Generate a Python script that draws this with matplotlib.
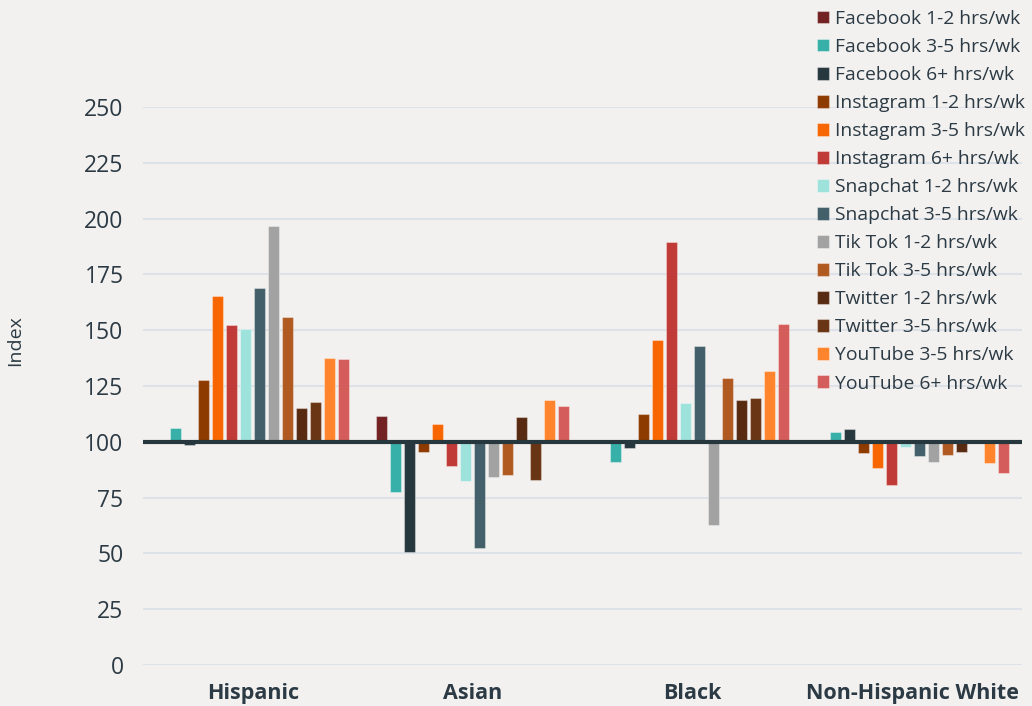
import matplotlib
matplotlib.use("Agg")
import matplotlib.pyplot as plt
import numpy as np

plt.rcParams['font.family'] = ['Open Sans', 'DejaVu Sans']

groups = ['Hispanic', 'Asian', 'Black', 'Non-Hispanic White']
series = ['Facebook 1-2 hrs/wk', 'Facebook 3-5 hrs/wk', 'Facebook 6+ hrs/wk',
          'Instagram 1-2 hrs/wk', 'Instagram 3-5 hrs/wk', 'Instagram 6+ hrs/wk',
          'Snapchat 1-2 hrs/wk', 'Snapchat 3-5 hrs/wk',
          'Tik Tok 1-2 hrs/wk', 'Tik Tok 3-5 hrs/wk',
          'Twitter 1-2 hrs/wk', 'Twitter 3-5 hrs/wk',
          'YouTube 3-5 hrs/wk', 'YouTube 6+ hrs/wk']
colors = ['#722222', '#36B0A8', '#26373E', '#8E3B00', '#F76600', '#C03A37',
          '#9EE2DC', '#425F6A', '#A2A2A2', '#B05A22', '#582A12', '#6A3514',
          '#FF842C', '#D45C5A']

# index values per series, order: Hispanic, Asian, Black, Non-Hispanic White
facebook_12 = [100, 111.6, 100, 100]
facebook_35 = [106.2, 77.7, 90.8, 104.4]
facebook_6 = [98.5, 50.5, 97.1, 105.7]
instagram_12 = [127.7, 95.3, 112.5, 94.8]
instagram_35 = [165.3, 108, 145.8, 88.1]
instagram_6 = [152.2, 89.3, 189.5, 80.5]
snapchat_12 = [150.7, 82.6, 117.2, 97.5]
snapchat_35 = [169.1, 52.6, 142.9, 93.6]
tiktok_12 = [196.8, 84.1, 62.9, 91.1]
tiktok_35 = [155.9, 85.3, 128.6, 94.0]
twitter_12 = [115.1, 111.3, 118.7, 95.6]
twitter_35 = [117.8, 82.9, 119.8, 100]
youtube_35 = [137.7, 118.6, 131.6, 90.4]
youtube_6 = [137.2, 116.0, 152.9, 86.2]

values = [facebook_12, facebook_35, facebook_6, instagram_12, instagram_35,
          instagram_6, snapchat_12, snapchat_35, tiktok_12, tiktok_35,
          twitter_12, twitter_35, youtube_35, youtube_6]

bg = '#F3F1EF'
txt = '#2B3A44'

fig = plt.figure(figsize=(10.32, 7.06), dpi=100, facecolor=bg)
ax = fig.add_axes([143/1032, 41/706, 879/1032, 558/706])
ax.set_facecolor(bg)

x = np.arange(len(groups))
slot = 14.0/220
n = len(series)
handles = []
for i, (name, vals, c) in enumerate(zip(series, values, colors)):
    pos = x + (i - (n - 1)/2)*slot
    v = np.array(vals)
    b = ax.bar(pos, v - 100, bottom=100, width=0.05, color=c,
               edgecolor=(1, 1, 1, 0.35), linewidth=0.8, label=name, zorder=3)
    handles.append(b)

ax.axhline(100, color='#26373E', lw=3, zorder=4)

ax.set_xlim(-0.5, 3.5)
ax.set_ylim(0, 250)
ax.set_yticks(np.arange(0, 251, 25))
ax.yaxis.grid(True, color='#DCE2E8', lw=1.5, zorder=0)
ax.set_axisbelow(True)
for s in ax.spines.values():
    s.set_visible(False)
ax.tick_params(axis='both', length=0, colors=txt)
ax.tick_params(axis='y', labelsize=16.5, pad=14)
ax.set_xticks(x)
ax.set_xticklabels(groups, fontsize=15.5, fontweight='bold', color=txt)
ax.tick_params(axis='x', pad=13)

# axis title sits above the middle of the plot in the original
fig.text(15/1032, 1 - 341/706, 'Index', rotation=90, ha='center', va='center',
         fontsize=14, color=txt)

leg = fig.legend(handles=handles, loc='upper left', bbox_to_anchor=(817/1032, 1 - 10/706),
                 frameon=False, fontsize=13.9, handlelength=0.62, handleheight=0.62,
                 handletextpad=0.3, labelspacing=0.52, borderpad=0, borderaxespad=0)
for t in leg.get_texts():
    t.set_color(txt)

fig.savefig('out.png', dpi=100, facecolor=bg)
